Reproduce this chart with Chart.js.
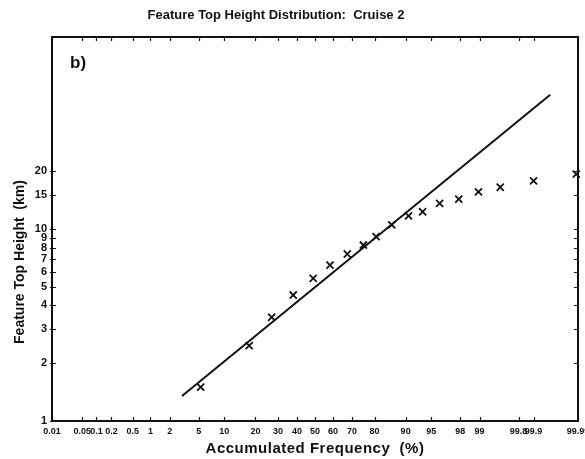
<!DOCTYPE html>
<html>
<head>
<meta charset="utf-8">
<script src="https://cdn.jsdelivr.net/npm/chart.js@4/dist/chart.umd.min.js"></script>
<style>
  html, body { margin: 0; padding: 0; background: #fff; }
  #wrap { width: 585px; height: 459px; }
</style>
</head>
<body>
<div id="wrap"><canvas id="c" width="585" height="459"></canvas></div>
<script>
// ---- text ----
const chartTitle = 'Feature Top Height Distribution:  Cruise 2';
const xAxisTitle = 'Accumulated Frequency  (%)';
const yAxisTitle = 'Feature Top Height  (km)';
const panelLabel = 'b)';

// ---- tick labels ----
const freqTicks = [0.01, 0.05, 0.1, 0.2, 0.5, 1, 2, 5, 10, 20, 30, 40, 50, 60, 70, 80, 90, 95, 98, 99, 99.8, 99.9, 99.99];
const freqTickLabels = ['0.01', '0.05', '0.1', '0.2', '0.5', '1', '2', '5', '10', '20', '30', '40', '50', '60', '70', '80', '90', '95', '98', '99', '99.8', '99.9', '99.99'];
const heightTicks = [1, 2, 3, 4, 5, 6, 7, 8, 9, 10, 15, 20];

// ---- observed distribution (accumulated %, top height km) ----
const obsFreq   = [5.3, 17.6, 27.0, 37.9, 49.0, 58.4, 67.6, 75.3, 80.6, 86.1, 90.7, 93.6, 96.1, 97.9, 98.96, 99.56, 99.90, 99.989];
const obsHeight = [1.50, 2.47, 3.47, 4.53, 5.53, 6.49, 7.41, 8.25, 9.12, 10.5, 11.7, 12.3, 13.6, 14.3, 15.6, 16.5, 17.8, 19.3];

// ---- log-normal reference line (end points) ----
const fitFreq   = [3.0, 99.956];
const fitHeight = [1.35, 50];

// Inverse of the standard normal CDF (Acklam's rational approximation)
function probit(p) {
  const a = [-3.969683028665376e+01, 2.209460984245205e+02, -2.759285104469687e+02, 1.383577518672690e+02, -3.066479806614716e+01, 2.506628277459239e+00];
  const b = [-5.447609879822406e+01, 1.615858368580409e+02, -1.556989798598866e+02, 6.680131188771972e+01, -1.328068155288572e+01];
  const c = [-7.784894002430293e-03, -3.223964580411365e-01, -2.400758277161838e+00, -2.549671348850262e+00, 4.374664141464968e+00, 2.938163982698783e+00];
  const d = [7.784695709041462e-03, 3.224671290700398e-01, 2.445134137142996e+00, 3.754408661907416e+00];
  const pl = 0.02425, ph = 1 - pl;
  let q, r;
  if (p < pl) {
    q = Math.sqrt(-2 * Math.log(p));
    return (((((c[0]*q + c[1])*q + c[2])*q + c[3])*q + c[4])*q + c[5]) / ((((d[0]*q + d[1])*q + d[2])*q + d[3])*q + 1);
  }
  if (p <= ph) {
    q = p - 0.5; r = q * q;
    return (((((a[0]*r + a[1])*r + a[2])*r + a[3])*r + a[4])*r + a[5])*q / (((((b[0]*r + b[1])*r + b[2])*r + b[3])*r + b[4])*r + 1);
  }
  q = Math.sqrt(-2 * Math.log(1 - p));
  return -(((((c[0]*q + c[1])*q + c[2])*q + c[3])*q + c[4])*q + c[5]) / ((((d[0]*q + d[1])*q + d[2])*q + d[3])*q + 1);
}
// Standard normal CDF (for pixel -> value)
function normCdf(z) {
  const t = 1 / (1 + 0.2316419 * Math.abs(z));
  const y = 0.3989422804 * Math.exp(-z * z / 2) *
    t * (0.319381530 + t * (-0.356563782 + t * (1.781477937 + t * (-1.821255978 + t * 1.330274429))));
  return z >= 0 ? 1 - y : y;
}

// Normal-probability axis: values are percentages, spaced by their normal quantile
class ProbitScale extends Chart.LinearScale {
  _zRange() {
    const z0 = probit(this.min / 100), z1 = probit(this.max / 100);
    return [z0, z1];
  }
  getPixelForValue(value) {
    const [z0, z1] = this._zRange();
    const z = probit(Math.min(Math.max(value, 1e-6), 100 - 1e-6) / 100);
    return this.getPixelForDecimal((z - z0) / (z1 - z0));
  }
  getValueForPixel(pixel) {
    const [z0, z1] = this._zRange();
    const z = z0 + this.getDecimalForPixel(pixel) * (z1 - z0);
    return normCdf(z) * 100;
  }
}
ProbitScale.id = 'probit';
ProbitScale.defaults = {};
Chart.register(ProbitScale);

const FONT = '"Liberation Sans", Arial, sans-serif';
const AREA = { left: 52, top: 37, right: 578, bottom: 421 };

// Frame, inward tick marks and the text around the plot
const framePlugin = {
  id: 'frame',
  afterDraw(chart) {
    const { ctx, chartArea: ca, scales } = chart;
    ctx.save();
    ctx.strokeStyle = '#111';
    ctx.lineWidth = 1.2;
    const tl = 4;
    ctx.beginPath();
    scales.x.ticks.forEach(t => {
      const px = Math.round(scales.x.getPixelForValue(t.value)) + 0.5;
      ctx.moveTo(px, ca.bottom); ctx.lineTo(px, ca.bottom - tl);
      ctx.moveTo(px, ca.top); ctx.lineTo(px, ca.top + tl);
    });
    scales.y.ticks.forEach(t => {
      const py = Math.round(scales.y.getPixelForValue(t.value)) + 0.5;
      ctx.moveTo(ca.left - 2, py); ctx.lineTo(ca.left + tl, py);
      ctx.moveTo(ca.right, py); ctx.lineTo(ca.right - tl, py);
    });
    ctx.stroke();

    ctx.lineWidth = 2;
    ctx.strokeRect(ca.left, ca.top, ca.right - ca.left, ca.bottom - ca.top);

    ctx.fillStyle = '#111';
    ctx.textAlign = 'center';
    ctx.textBaseline = 'middle';
    ctx.font = 'bold 13px ' + FONT;
    ctx.fillText(chartTitle, 276, 15);

    ctx.font = 'bold 15px ' + FONT;
    ctx.letterSpacing = '0.5px';
    ctx.fillText(xAxisTitle, 315, 449);
    ctx.letterSpacing = '0px';

    ctx.save();
    ctx.translate(20, 262);
    ctx.rotate(-Math.PI / 2);
    ctx.font = 'bold 14px ' + FONT;
    ctx.fillText(yAxisTitle, 0, 0);
    ctx.restore();

    ctx.textAlign = 'left';
    ctx.font = 'bold 17px ' + FONT;
    ctx.fillText(panelLabel, 70, 63);
    ctx.restore();
  }
};

const obsPoints = obsFreq.map((f, i) => ({ x: f, y: obsHeight[i] }));
const fitPoints = fitFreq.map((f, i) => ({ x: f, y: fitHeight[i] }));

new Chart(document.getElementById('c'), {
  type: 'scatter',
  data: {
    datasets: [
      {
        label: 'fit',
        data: fitPoints,
        showLine: true,
        borderColor: '#111',
        borderWidth: 2,
        pointRadius: 0,
        clip: false
      },
      {
        label: 'observed',
        data: obsPoints,
        pointStyle: 'crossRot',
        pointRadius: 5,
        borderColor: '#111',
        backgroundColor: '#111',
        pointBorderWidth: 1.8,
        clip: false
      }
    ]
  },
  options: {
    responsive: false,
    devicePixelRatio: 1,
    animation: false,
    events: [],
    layout: { padding: { top: AREA.top, right: 585 - AREA.right, left: 0, bottom: 0 } },
    plugins: {
      legend: { display: false },
      tooltip: { enabled: false },
      title: { display: false }
    },
    scales: {
      x: {
        type: 'probit',
        position: 'bottom',
        min: 0.01,
        max: 99.99,
        afterBuildTicks: s => { s.ticks = freqTicks.map(v => ({ value: v })); },
        afterFit: s => { s.height = 459 - AREA.bottom; s.paddingLeft = 0; s.paddingRight = 0; },
        grid: { display: false, drawTicks: false },
        border: { display: false },
        ticks: {
          autoSkip: false,
          maxRotation: 0,
          minRotation: 0,
          padding: 5,
          color: '#111',
          font: { family: FONT, size: 9, weight: 'bold' },
          callback: (v, i) => freqTickLabels[i]
        }
      },
      y: {
        type: 'logarithmic',
        position: 'left',
        min: 1,
        max: 100,
        afterBuildTicks: s => { s.ticks = heightTicks.map(v => ({ value: v })); },
        afterFit: s => { s.width = AREA.left; s.paddingTop = 0; s.paddingBottom = 0; },
        grid: { display: false, drawTicks: false },
        border: { display: false },
        ticks: {
          autoSkip: false,
          padding: 5,
          color: '#111',
          font: { family: FONT, size: 11, weight: 'bold' },
          callback: v => String(v)
        }
      }
    }
  },
  plugins: [framePlugin]
});
</script>
</body>
</html>
